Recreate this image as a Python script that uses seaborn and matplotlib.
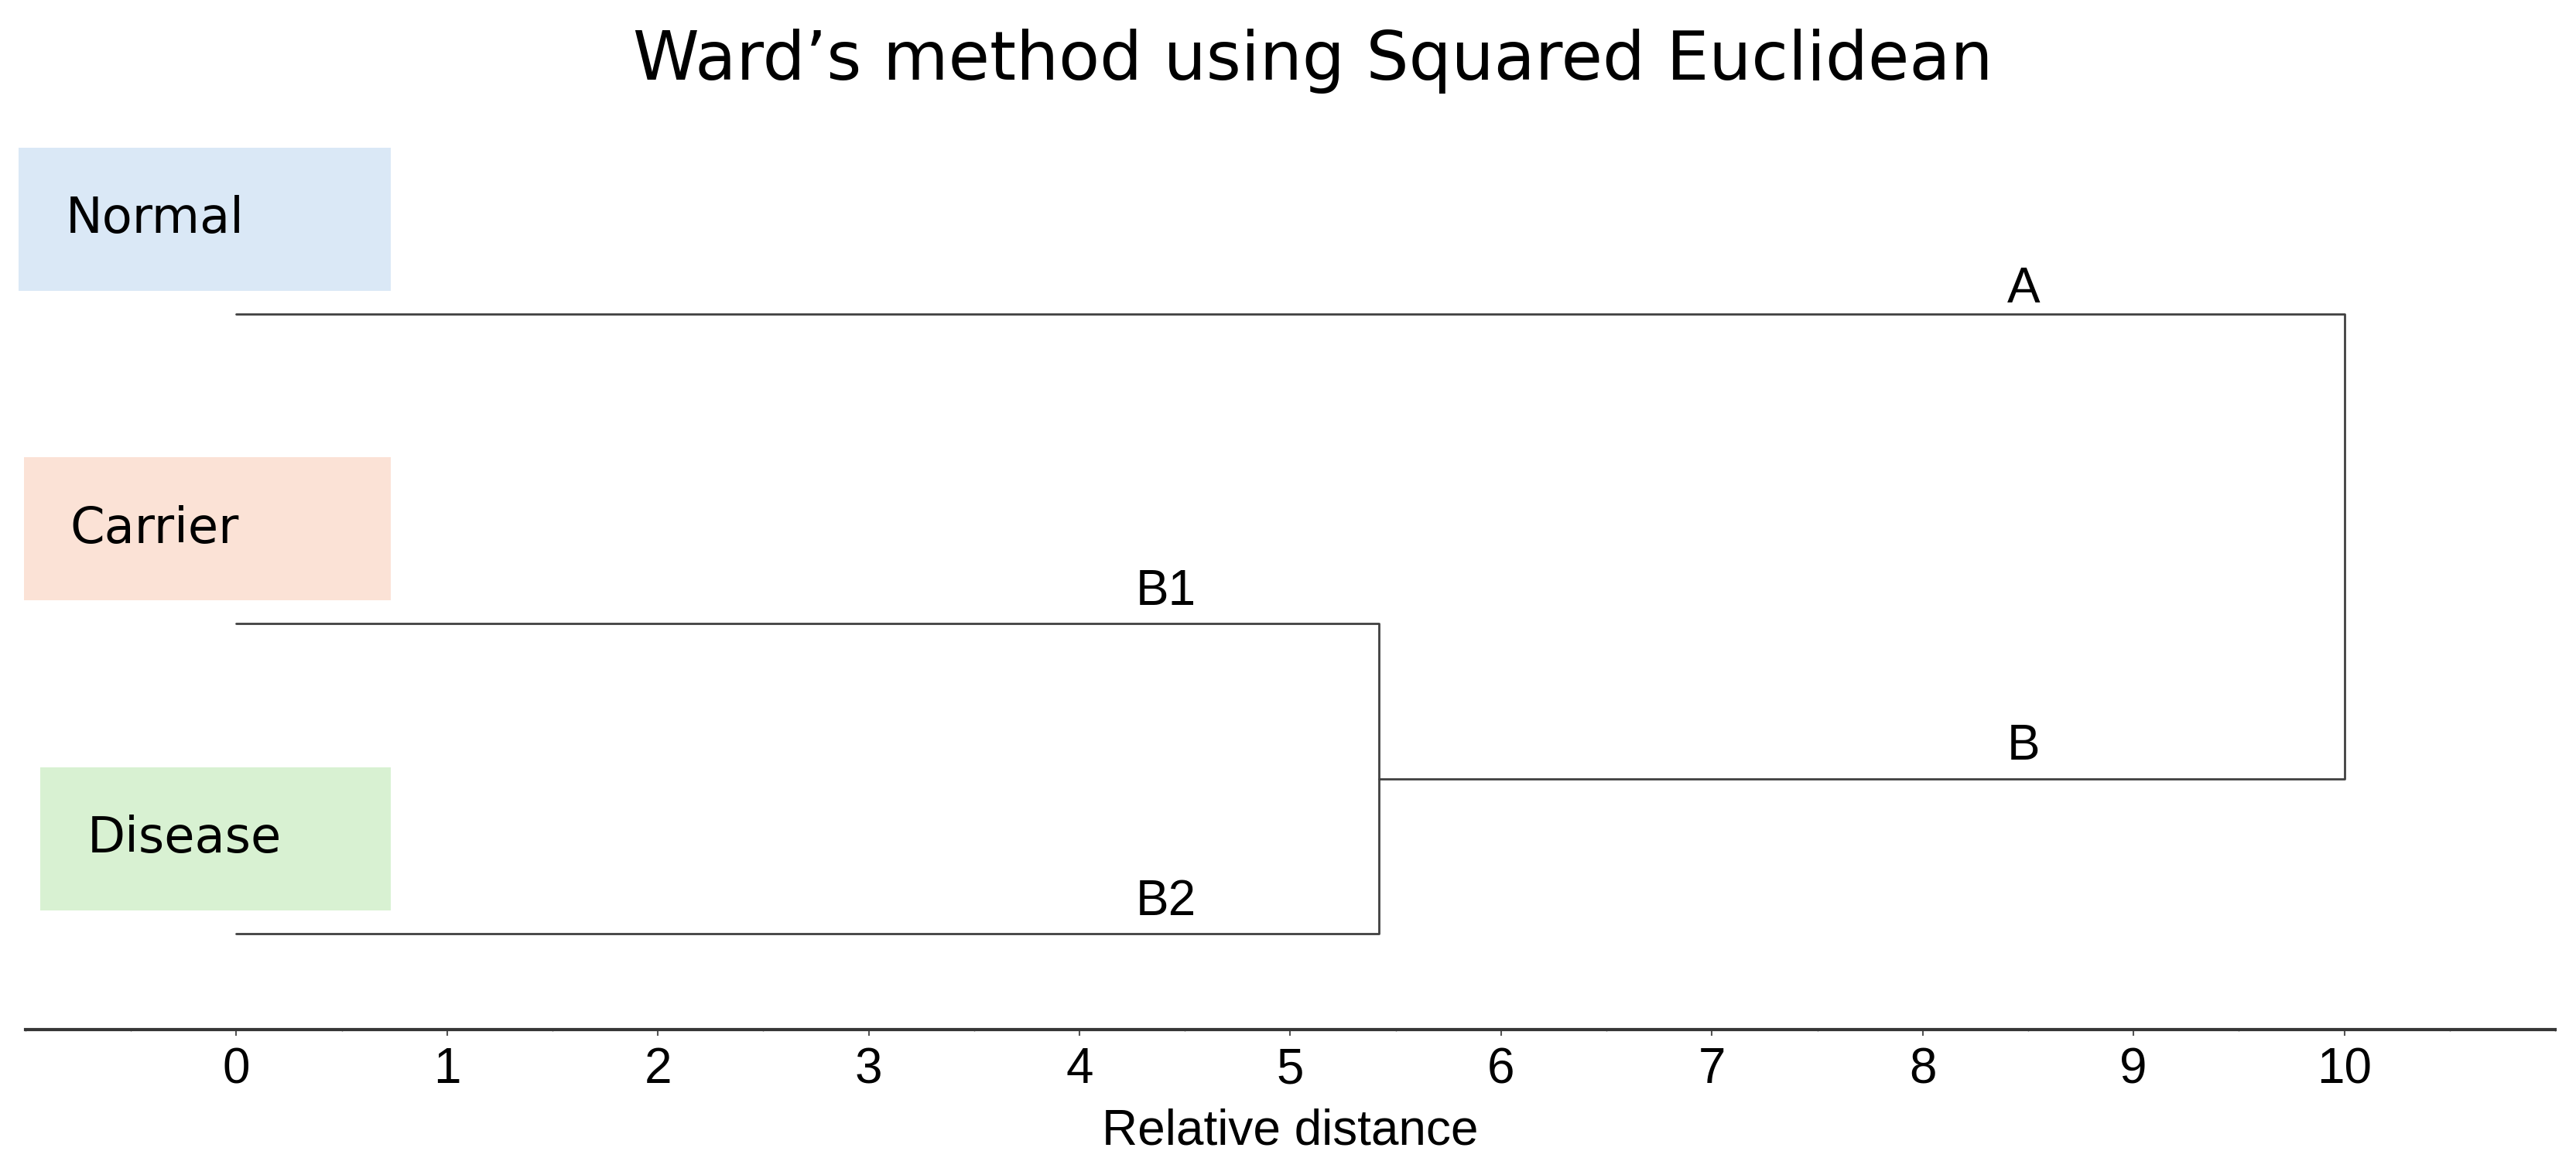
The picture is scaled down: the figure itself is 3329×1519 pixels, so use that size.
"""
Ward's method dendrogram (Squared Euclidean) — three groups.
"""

import numpy as np
import pandas as pd
import matplotlib
matplotlib.use('Agg')
import matplotlib.pyplot as plt
from matplotlib.patches import Rectangle
from matplotlib.ticker import MultipleLocator
import seaborn as sns

# ── Data ─────────────────────────────────────────────────────────────────────
leaves        = ['Normal', 'Carrier', 'Disease']
leaf_colors   = ['#dae8f6', '#fbe2d6', '#d8f1d2']
merge_b       = 5.42     # Carrier + Disease join (B1/B2 -> B)
merge_root    = 10.0     # Normal + B join (A/B)
cluster_names = ['A', 'B', 'B1', 'B2']
x_ticks       = list(range(0, 11))

# ── Layout ───────────────────────────────────────────────────────────────────
W, H, DPI = 3330, 1519, 100
leaf_y = {'Normal': 3, 'Carrier': 2, 'Disease': 1}
b_y = (leaf_y['Carrier'] + leaf_y['Disease']) / 2

sns.set_theme(style='white')
plt.rcParams['font.family'] = ['Liberation Sans', 'DejaVu Sans']

fig = plt.figure(figsize=(W / DPI, H / DPI), dpi=DPI)
ax = fig.add_axes([33 / W, (H - 1331) / H, (3302 - 33) / W, (1331 - 160) / H])

# dendrogram segments as polylines (one unit per bracket)
segs = pd.DataFrame({
    'x': [0, merge_b, merge_b, 0,
          0, merge_root, merge_root, merge_b],
    'y': [leaf_y['Carrier'], leaf_y['Carrier'], leaf_y['Disease'], leaf_y['Disease'],
          leaf_y['Normal'], leaf_y['Normal'], b_y, b_y],
    'bracket': ['b'] * 4 + ['root'] * 4,
})
sns.lineplot(data=segs, x='x', y='y', units='bracket', estimator=None, sort=False,
             color='#404040', lw=2.0, ax=ax)

# cluster labels
lab_x = {'A': 8.48, 'B': 8.48, 'B1': 4.41, 'B2': 4.41}
lab_y = {'A': leaf_y['Normal'], 'B': b_y, 'B1': leaf_y['Carrier'], 'B2': leaf_y['Disease']}
lab_off = {'A': 11, 'B': 18, 'B1': 18, 'B2': 17}
for name in cluster_names:
    ax.annotate(name, (lab_x[name], lab_y[name]), xytext=(0, lab_off[name]),
                textcoords='offset points', ha='center', va='baseline',
                fontsize=46, color='black')

# coloured group boxes
box_left = {'Normal': -1.032, 'Carrier': -1.006, 'Disease': -0.929}
txt_left = {'Normal': -0.811, 'Carrier': -0.789, 'Disease': -0.708}
for name, col in zip(leaves, leaf_colors):
    y0 = leaf_y[name] + 0.075
    ax.add_patch(Rectangle((box_left[name], y0), 0.734 - box_left[name], 0.462,
                           facecolor=col, edgecolor='none', zorder=0, clip_on=False))
    ax.text(txt_left[name], y0 + 0.231, name, ha='left', va='center',
            fontsize=46, family=['DejaVu Sans'], color='black')

# axes styling
ax.set_xlim(-1.0, 11.0)
ax.set_ylim(1 - (1331 - 1207) / 400.5, 3 + (406 - 160) / 400.5)
for s in ['top', 'right', 'left']:
    ax.spines[s].set_visible(False)
ax.spines['bottom'].set_linewidth(3)
ax.spines['bottom'].set_color('#363636')
ax.set_yticks([])
ax.set_xticks(x_ticks)
ax.xaxis.set_minor_locator(MultipleLocator(0.5))
ax.tick_params(axis='x', which='major', direction='out', length=6, width=1.5,
               color='#555555', labelsize=46, labelcolor='black', pad=10, bottom=True)
ax.tick_params(axis='x', which='minor', direction='inout', length=3, width=1,
               color='#777777', bottom=True)
ax.set_xlabel('Relative distance', fontsize=46, labelpad=14, color='black')
ax.set_ylabel('')

fig.text(1697 / W, (H - 103) / H, 'Ward\u2019s method using Squared Euclidean',
         ha='center', va='baseline', fontsize=62.5,
         family=['DejaVu Sans'], color='black')

fig.savefig('out.png', dpi=DPI)
